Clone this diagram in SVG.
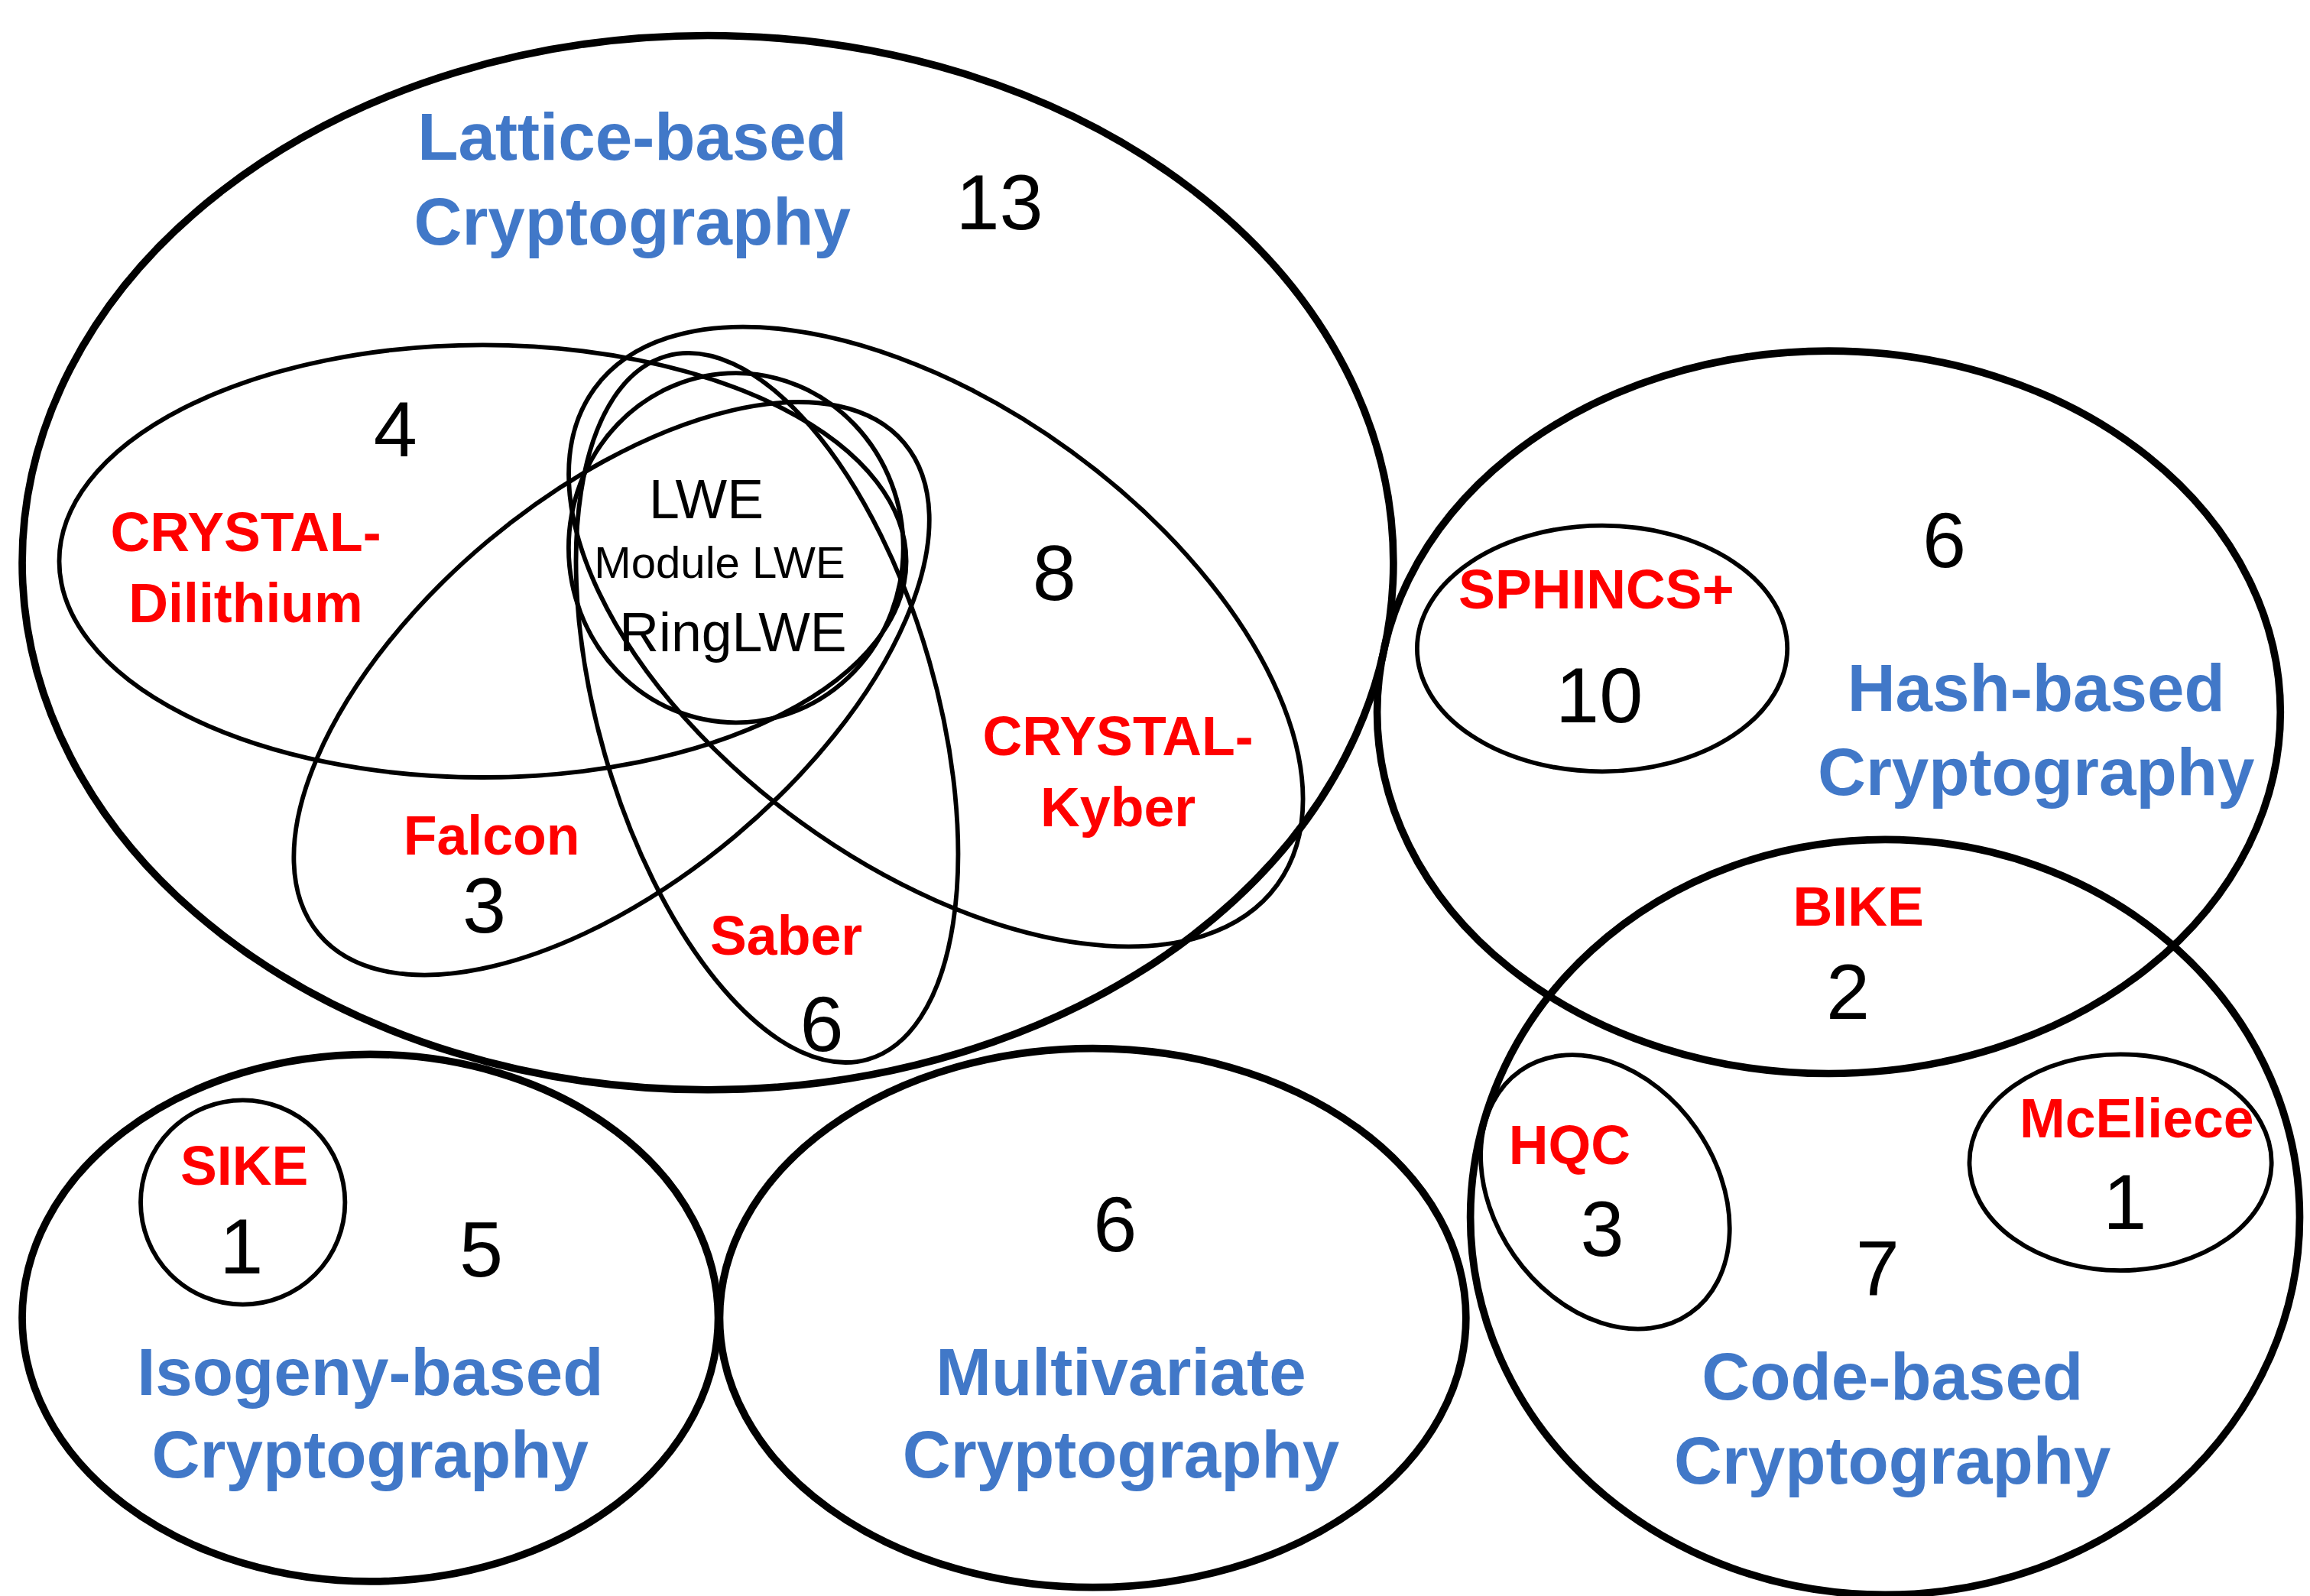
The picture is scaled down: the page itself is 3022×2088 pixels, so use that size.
<svg xmlns="http://www.w3.org/2000/svg" width="3022" height="2088" viewBox="0 0 3022 2088">
<style>
.thick{fill:none;stroke:#000;stroke-width:5}
.thin{fill:none;stroke:#000;stroke-width:3}
.blue{font-family:"Liberation Sans",Arial,sans-serif;font-weight:bold;font-size:45px;fill:#4178C8;text-anchor:middle}
.red{font-family:"Liberation Sans",Arial,sans-serif;font-weight:bold;font-size:37px;fill:#FF0000;text-anchor:middle}
.num{font-family:"Liberation Sans",Arial,sans-serif;font-size:53px;fill:#000;text-anchor:middle}
.lwe{font-family:"Liberation Sans",Arial,sans-serif;font-size:37px;fill:#000;text-anchor:middle}
</style>
<rect width="3022" height="2088" fill="#fff"/>
<g transform="scale(1.9372)">
<g id="lattice">
<ellipse class="thick" cx="478" cy="380" rx="463" ry="356"/>
<text class="blue" x="427" y="108">Lattice-based</text>
<text class="blue" x="427" y="165">Cryptography</text>
<text class="num" x="675" y="155">13</text>
</g>
<g id="dilithium">
<ellipse class="thin" cx="326" cy="379" rx="286" ry="146"/>
<text class="num" x="267" y="308">4</text>
<text class="red" x="166" y="372">CRYSTAL-</text>
<text class="red" x="166" y="420">Dilithium</text>
</g>
<g id="kyber">
<ellipse class="thin" cx="632" cy="430" rx="285" ry="155" transform="rotate(36 632 430)"/>
<text class="num" x="712" y="405">8</text>
<text class="red" x="755" y="510">CRYSTAL-</text>
<text class="red" x="755" y="558">Kyber</text>
</g>
<g id="falcon">
<ellipse class="thin" cx="413" cy="465" rx="258" ry="130" transform="rotate(-40 413 465)"/>
<text class="red" x="332" y="577">Falcon</text>
<text class="num" x="327" y="630">3</text>
</g>
<g id="saber">
<ellipse class="thin" cx="518" cy="478" rx="114" ry="247" transform="rotate(-16 518 478)"/>
<text class="red" x="531" y="645">Saber</text>
<text class="num" x="555" y="710">6</text>
</g>
<g id="lwe">
<ellipse class="thin" cx="497" cy="370" rx="113" ry="118"/>
<text class="lwe" x="477" y="350">LWE</text>
<text class="lwe" x="486" y="390" style="font-size:30px">Module LWE</text>
<text class="lwe" x="495" y="440">RingLWE</text>
</g>
<g id="hash">
<ellipse class="thick" cx="1235" cy="481" rx="305" ry="244"/>
<text class="num" x="1313" y="383">6</text>
<text class="blue" x="1375" y="480">Hash-based</text>
<text class="blue" x="1375" y="537">Cryptography</text>
</g>
<g id="sphincs">
<ellipse class="thin" cx="1082" cy="438" rx="125" ry="83"/>
<text class="red" x="1078" y="411">SPHINCS+</text>
<text class="num" x="1080" y="488">10</text>
</g>
<g id="code">
<ellipse class="thick" cx="1273" cy="822" rx="280" ry="255"/>
<text class="red" x="1255" y="625">BIKE</text>
<text class="num" x="1248" y="688">2</text>
<text class="num" x="1268" y="875">7</text>
<text class="blue" x="1278" y="945">Code-based</text>
<text class="blue" x="1278" y="1002">Cryptography</text>
</g>
<g id="hqc">
<ellipse class="thin" cx="1084" cy="805" rx="75" ry="100" transform="rotate(-35 1084 805)"/>
<text class="red" x="1060" y="786">HQC</text>
<text class="num" x="1082" y="848">3</text>
</g>
<g id="mceliece">
<ellipse class="thin" cx="1432" cy="785" rx="102" ry="73"/>
<text class="red" x="1443" y="768">McEliece</text>
<text class="num" x="1435" y="830">1</text>
</g>
<g id="isogeny">
<ellipse class="thick" cx="250" cy="890" rx="235" ry="178"/>
<text class="num" x="325" y="862">5</text>
<text class="blue" x="250" y="942">Isogeny-based</text>
<text class="blue" x="250" y="998">Cryptography</text>
</g>
<g id="sike">
<circle class="thin" cx="164" cy="812" r="69"/>
<text class="red" x="165" y="800">SIKE</text>
<text class="num" x="163" y="860">1</text>
</g>
<g id="multivariate">
<ellipse class="thick" cx="738" cy="890" rx="252" ry="182"/>
<text class="num" x="753" y="845">6</text>
<text class="blue" x="757" y="942">Multivariate</text>
<text class="blue" x="757" y="998">Cryptography</text>
</g>
<g id="connectors"></g>
</g>
</svg>
